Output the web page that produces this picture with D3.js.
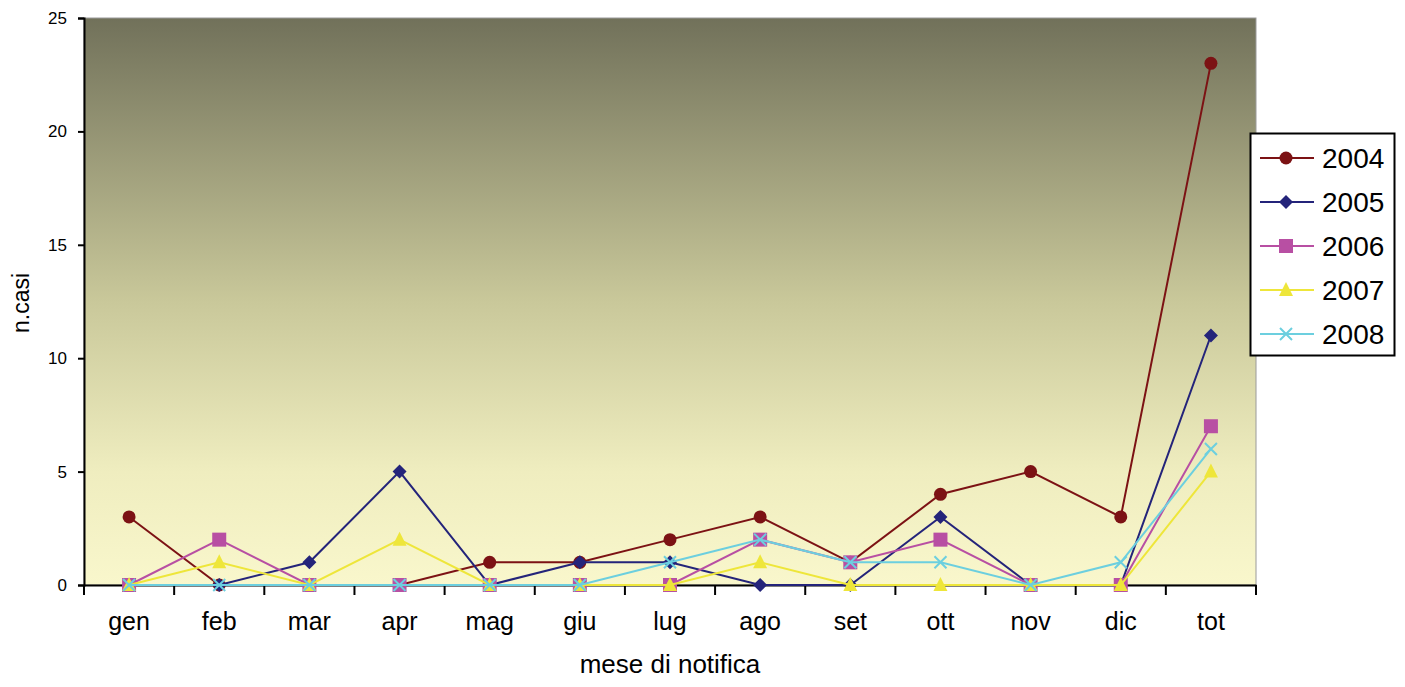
<!DOCTYPE html>
<html>
<head>
<meta charset="utf-8">
<script src="https://cdn.jsdelivr.net/npm/d3@7"></script>
<style>
  body { margin: 0; background: #fff; }
  svg { font-family: Arial, "Liberation Sans", sans-serif; }
</style>
</head>
<body>
<svg id="chart" width="1405" height="687"></svg>
<script>
const months = ["gen", "feb", "mar", "apr", "mag", "giu", "lug", "ago", "set", "ott", "nov", "dic", "tot"];
const years = ["2004", "2005", "2006", "2007", "2008"];
const v2004 = [3, 0, 0, 0, 1, 1, 2, 3, 1, 4, 5, 3, 23];
const v2005 = [0, 0, 1, 5, 0, 1, 1, 0, 0, 3, 0, 0, 11];
const v2006 = [0, 2, 0, 0, 0, 0, 0, 2, 1, 2, 0, 0, 7];
const v2007 = [0, 1, 0, 2, 0, 0, 0, 1, 0, 0, 0, 0, 5];
const v2008 = [0, 0, 0, 0, 0, 0, 1, 2, 1, 1, 0, 1, 6];
const yTicks = [0, 5, 10, 15, 20, 25];

const seriesValues = [v2004, v2005, v2006, v2007, v2008];
const colors = ["#7c1214", "#24247a", "#b84fa3", "#eee63a", "#6ccfdf"];
const shapes = ["circle", "diamond", "square", "triangle", "cross"];

const svg = d3.select("#chart");
const margin = { top: 18, right: 149, bottom: 102, left: 84 };
const width = 1405, height = 687;

const x = d3.scaleBand()
  .domain(months)
  .range([margin.left, width - margin.right]);

const y = d3.scaleLinear()
  .domain([0, 25])
  .range([height - margin.bottom, margin.top]);

// background gradient
const defs = svg.append("defs");
const grad = defs.append("linearGradient")
  .attr("id", "bg")
  .attr("x1", 0).attr("y1", 0).attr("x2", 0).attr("y2", 1);
grad.append("stop").attr("offset", "0%").attr("stop-color", "#71715a");
grad.append("stop").attr("offset", "50%").attr("stop-color", "#c9c89a");
grad.append("stop").attr("offset", "80%").attr("stop-color", "#efedbf");
grad.append("stop").attr("offset", "100%").attr("stop-color", "#f9f7cc");

svg.append("rect")
  .attr("x", margin.left)
  .attr("y", margin.top)
  .attr("width", width - margin.right - margin.left)
  .attr("height", y(0) - margin.top)
  .attr("fill", "url(#bg)")
  .attr("stroke", "#9a9a9a")
  .attr("stroke-width", 1);

// axes
const yAxis = svg.append("g")
  .attr("transform", `translate(${margin.left},0)`)
  .call(d3.axisLeft(y).tickValues(yTicks).tickSize(6).tickPadding(11));
yAxis.select(".domain").attr("stroke", "#000").attr("stroke-width", 2);
yAxis.selectAll(".tick line").attr("stroke-width", 2);
yAxis.selectAll("text").attr("font-size", 17).attr("fill", "#000");

const xAxis = svg.append("g")
  .attr("transform", `translate(0,${y(0)})`)
  .call(d3.axisBottom(x).tickSize(0).tickPadding(27));
xAxis.select(".domain").attr("stroke", "#000").attr("stroke-width", 2);
xAxis.selectAll("text").attr("font-size", 25).attr("fill", "#000");

// tick marks between categories
const bounds = months.map(function (m) { return x(m); }).concat([x.range()[1]]);
svg.append("g")
  .selectAll("line")
  .data(bounds)
  .enter()
  .append("line")
  .attr("x1", function (d) { return d; })
  .attr("x2", function (d) { return d; })
  .attr("y1", y(0))
  .attr("y2", y(0) + 10)
  .attr("stroke", "#000")
  .attr("stroke-width", 2);

// axis titles
svg.append("text")
  .attr("transform", "rotate(-90)")
  .attr("x", -303)
  .attr("y", 29)
  .attr("text-anchor", "middle")
  .attr("font-size", 23)
  .text("n.casi");

svg.append("text")
  .attr("x", 670)
  .attr("y", 673)
  .attr("text-anchor", "middle")
  .attr("font-size", 26)
  .text("mese di notifica");

function drawMarker(g, shape, color, cx, cy) {
  if (shape === "circle") {
    g.append("circle").attr("cx", cx).attr("cy", cy).attr("r", 6.5).attr("fill", color);
  } else if (shape === "diamond") {
    g.append("path")
      .attr("d", `M${cx},${cy - 7}L${cx + 7},${cy}L${cx},${cy + 7}L${cx - 7},${cy}Z`)
      .attr("fill", color);
  } else if (shape === "square") {
    g.append("rect").attr("x", cx - 7).attr("y", cy - 7).attr("width", 14).attr("height", 14).attr("fill", color);
  } else if (shape === "triangle") {
    g.append("path")
      .attr("d", `M${cx},${cy - 8}L${cx + 7},${cy + 6}L${cx - 7},${cy + 6}Z`)
      .attr("fill", color);
  } else {
    g.append("path")
      .attr("d", `M${cx - 6},${cy - 6}L${cx + 6},${cy + 6}M${cx - 6},${cy + 6}L${cx + 6},${cy - 6}`)
      .attr("stroke", color)
      .attr("stroke-width", 2)
      .attr("fill", "none");
  }
}

const line = d3.line()
  .x(function (d, i) { return x(months[i]) + x.bandwidth() / 2; })
  .y(function (d) { return y(d); });

seriesValues.forEach(function (vals, s) {
  const g = svg.append("g");
  g.append("path")
    .datum(vals)
    .attr("d", line)
    .attr("fill", "none")
    .attr("stroke", colors[s])
    .attr("stroke-width", 2);
  vals.forEach(function (v, i) {
    drawMarker(g, shapes[s], colors[s], x(months[i]) + x.bandwidth() / 2, y(v));
  });
});

// legend
const legend = svg.append("g");
legend.append("rect")
  .attr("x", 1250.5)
  .attr("y", 133.5)
  .attr("width", 144)
  .attr("height", 222)
  .attr("fill", "#fff")
  .attr("stroke", "#000")
  .attr("stroke-width", 2);

years.forEach(function (yr, i) {
  const ly = 158 + i * 44;
  legend.append("line")
    .attr("x1", 1260).attr("x2", 1314)
    .attr("y1", ly).attr("y2", ly)
    .attr("stroke", colors[i])
    .attr("stroke-width", 2);
  drawMarker(legend, shapes[i], colors[i], 1286, ly);
  legend.append("text")
    .attr("x", 1322)
    .attr("y", ly + 10)
    .attr("font-size", 28)
    .text(yr);
});
</script>
</body>
</html>
